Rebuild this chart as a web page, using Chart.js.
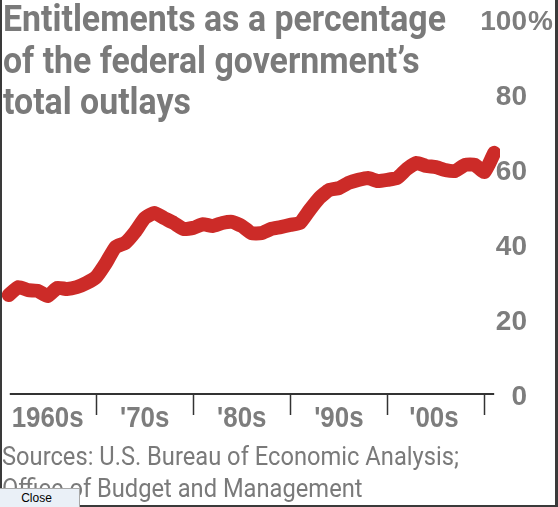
<!DOCTYPE html>
<html>
<head>
<meta charset="utf-8">
<script src="https://cdn.jsdelivr.net/npm/chart.js@4"></script>
<style>
  html, body { margin: 0; padding: 0; background: #fff; }
  #frame {
    position: absolute; left: 0; top: 0; width: 558px; height: 507px; overflow: hidden;
    box-sizing: border-box; border-left: 2px solid #3a3a3a; border-right: 3px solid #3a3a3a;
    border-bottom: 2px solid #3a3a3a;
  }
  #chart { position: absolute; left: -2px; top: 0; }
  .title, .source { position: absolute; margin: 0; color: #7a7a7a; white-space: nowrap; }
  .title span, .source span { display: block; width: max-content; transform-origin: 0 0; }
  .title {
    left: 1px; top: -1px;
    font-family: Roboto, "DejaVu Sans Condensed", sans-serif;
    font-weight: bold; font-size: 36px; line-height: 41.5px;
  }
  .source {
    left: 0px; top: 440px;
    font-family: Roboto, "DejaVu Sans Condensed", sans-serif;
    font-size: 26px; line-height: 32px;
  }
  .close {
    position: absolute; left: 0; top: 488px; width: 80px; height: 19px;
    box-sizing: border-box; background: #eaf0f7; border-top: 1px solid #a8a8a8;
    border-right: 1px solid #a8a8a8; font-family: "Liberation Sans", Arial, sans-serif;
    font-size: 12px; color: #000; text-align: center; line-height: 19px; padding-right: 6px;
  }
</style>
</head>
<body>
<div id="frame">
  <canvas id="chart" width="558" height="507"></canvas>
  <p class="title" data-fit="443"><span>Entitlements as a percentage</span><span>of the federal government’s</span><span>total outlays</span></p>
  <p class="source" data-fit="457"><span>Sources: U.S. Bureau of Economic Analysis;</span><span>Office of Budget and Management</span></p>
</div>
<div class="close">Close</div>
<script>
// Years plotted (fiscal years)
const years = [
  1961, 1962, 1963, 1964, 1965, 1966, 1967, 1968, 1969, 1970,
  1971, 1972, 1973, 1974, 1975, 1976, 1977, 1978, 1979, 1980,
  1981, 1982, 1983, 1984, 1985, 1986, 1987, 1988, 1989, 1990,
  1991, 1992, 1993, 1994, 1995, 1996, 1997, 1998, 1999, 2000,
  2001, 2002, 2003, 2004, 2005, 2006, 2007, 2008, 2009, 2010, 2011
];
// Entitlements, % of total federal outlays
const entitlementShare = [
  27.2, 29.3, 28.5, 28.3, 26.9, 29.1, 28.8, 29.3, 30.4, 32.0,
  35.7, 40.0, 41.1, 44.0, 47.7, 49.1, 47.7, 46.4, 44.8, 45.1,
  46.1, 45.6, 46.4, 46.7, 45.6, 43.7, 43.7, 44.8, 45.3, 45.9,
  46.4, 49.9, 53.1, 55.2, 55.7, 57.1, 57.9, 58.4, 57.6, 57.9,
  58.4, 60.8, 62.4, 61.6, 61.3, 60.5, 60.3, 61.9, 61.9, 60.0, 65.1
];
// Decade tick marks and the labels centred between them
const decadeTicks = [1970, 1980, 1990, 2000, 2010];
const decadeLabels = ["1960s", "'70s", "'80s", "'90s", "'00s"];
const decadeLabelAt = [1965, 1975, 1985, 1995, 2004.8];
const yTicks = [0, 20, 40, 60, 80, 100];

const grey = "#7d7d7d";
const ink = "#333333";

// squeeze the HTML text blocks to the narrow width of the original face
document.querySelectorAll("[data-fit]").forEach(el => {
  const spans = el.querySelectorAll("span");
  const s = Number(el.dataset.fit) / spans[0].getBoundingClientRect().width;
  spans.forEach(sp => { sp.style.transform = `scaleX(${s})`; });
});

// Draws the baseline, decade ticks, decade labels and the right-hand value labels
const axesPlugin = {
  id: "wsjAxes",
  afterDraw(chart) {
    const ctx = chart.ctx;
    const x = chart.scales.x;
    const y = chart.scales.y;
    const base = y.getPixelForValue(0) - 3;

    ctx.save();
    ctx.strokeStyle = ink;
    ctx.lineWidth = 2;
    ctx.beginPath();
    ctx.moveTo(x.getPixelForValue(1961.1), base);
    ctx.lineTo(x.getPixelForValue(2011), base);
    ctx.stroke();
    ctx.lineWidth = 1.5;
    decadeTicks.forEach(t => {
      const px = Math.round(x.getPixelForValue(t)) + 0.5;
      ctx.beginPath();
      ctx.moveTo(px, base);
      ctx.lineTo(px, base + 21);
      ctx.stroke();
    });

    ctx.fillStyle = grey;
    ctx.font = 'bold 29px "Liberation Sans", sans-serif';
    ctx.textAlign = "center";
    ctx.textBaseline = "alphabetic";
    const squeeze = 72 / ctx.measureText("1960s").width;
    decadeLabels.forEach((lab, i) => {
      ctx.save();
      ctx.translate(x.getPixelForValue(decadeLabelAt[i]), base + 33);
      ctx.scale(squeeze, 1);
      ctx.fillText(lab, 0, 0);
      ctx.restore();
    });

    ctx.font = 'bold 28px "Liberation Sans", sans-serif';
    ctx.textBaseline = "middle";
    yTicks.forEach(v => {
      const py = y.getPixelForValue(v);
      ctx.textAlign = "right";
      ctx.fillText(String(v), 527, py);
      if (v === 100) {
        ctx.textAlign = "left";
        ctx.fillText("%", 528, py);
      }
    });
    ctx.restore();
  }
};

new Chart(document.getElementById("chart"), {
  type: "line",
  data: {
    labels: years,
    datasets: [{
      label: "Entitlements",
      data: years.map((yr, i) => ({ x: yr, y: entitlementShare[i] })),
      borderColor: "#cc2b28",
      borderWidth: 14,
      borderJoinStyle: "round",
      borderCapStyle: "round",
      pointRadius: 0,
      tension: 0.15,
      fill: false
    }]
  },
  options: {
    responsive: false,
    animation: false,
    devicePixelRatio: 1,
    layout: { padding: { left: 2, right: 58, top: 22, bottom: 110 } },
    scales: {
      x: { type: "linear", min: 1960.3, max: 2011.6, display: false },
      y: { min: 0, max: 100, display: false }
    },
    plugins: {
      legend: { display: false },
      tooltip: { enabled: false }
    },
    events: []
  },
  plugins: [axesPlugin]
});
</script>
</body>
</html>
